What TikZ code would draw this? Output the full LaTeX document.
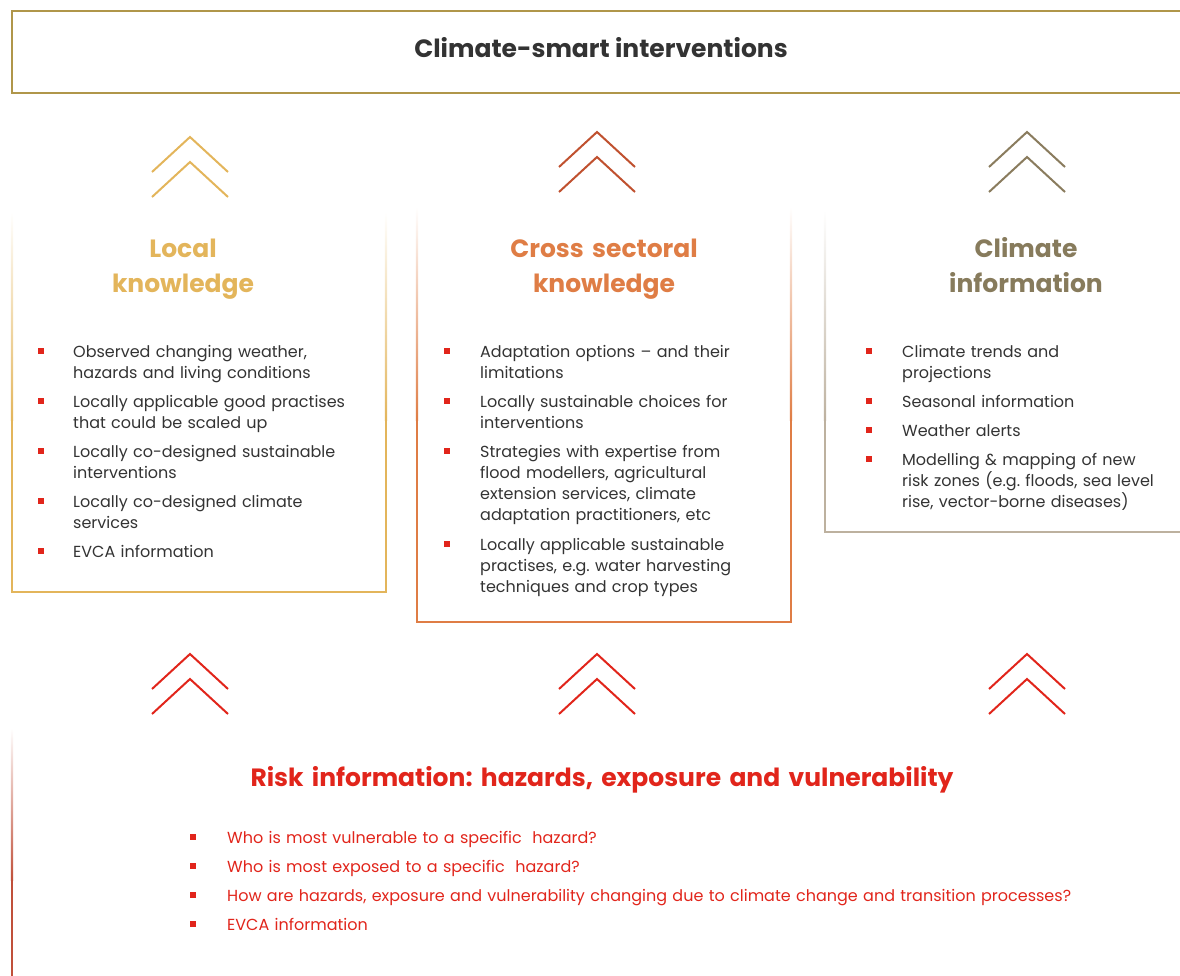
\documentclass[tikz,border=0pt]{standalone}
\usepackage{fontspec}
\setmainfont{Poppins}
\frenchspacing
\definecolor{txt}{HTML}{333333}
\definecolor{topgold}{HTML}{B0964A}
\definecolor{lgold}{HTML}{E3B55B}
\definecolor{xorange}{HTML}{DF7D45}
\definecolor{xchev}{HTML}{C0512F}
\definecolor{ctaupe}{HTML}{877B5C}
\definecolor{cchev}{HTML}{8A7C5E}
\definecolor{cbox}{HTML}{BDB19F}
\definecolor{red1}{HTML}{E1251B}
\definecolor{rline}{HTML}{C0503A}
\newcommand\bitem[6]{% name, colour, bullet x, text x, first baseline y, text
  \node[bul] (#1b) at (#3,#5-6) {};
  \node[body, text=#2] (#1) at (#4,#5) {#6};}
\newcommand\chevpair[4]{% name, apex x, apex y, colour
  \coordinate (#1) at (#2,#3);
  \draw[chev,#4] ([shift={(-38,35)}]#1) -- (#1) -- ([shift={(38,35)}]#1);
  \draw[chev,#4] ([shift={(-38,60)}]#1) -- ([shift={(0,25)}]#1) -- ([shift={(38,60)}]#1);}
\begin{document}
\begin{tikzpicture}[x=1pt,y=-1pt,
  body/.style={font=\frenchspacing\fontsize{16}{21}\selectfont, align=left, text width=900pt, inner sep=0pt, anchor=base west},
  bul/.style={fill=red1, minimum size=6pt, inner sep=0pt},
  ttl/.style={font=\frenchspacing\bfseries\fontsize{25}{35}\selectfont, align=center, text width=360pt, inner sep=0pt, anchor=base},
  chev/.style={line width=2pt},
  edge/.style={line width=2.4pt}]
\useasboundingbox (0,0) rectangle (1180,975);
% top box
\draw[topgold, line width=2.4pt] (1190,11) -- (12,11) -- (12,93) -- (1190,93);
\node[font=\bfseries\fontsize{25}{28}\selectfont, text=txt, inner sep=0pt, anchor=base] (toptitle) at (601,57) {Climate-smart interventions};
% chevrons
\chevpair{c1}{190}{137}{lgold}
\chevpair{c2}{597}{132}{xchev}
\chevpair{c3}{1027}{132}{cchev}
\chevpair{c4}{190}{654}{red1}
\chevpair{c5}{597}{654}{red1}
\chevpair{c6}{1027}{654}{red1}
% left box
\shade[top color=white, bottom color=lgold] (10.8,212) rectangle (13.2,420);
\shade[top color=white, bottom color=lgold] (384.8,212) rectangle (387.2,420);
\draw[edge, lgold] (12,420) -- (12,592) -- (386,592) -- (386,420);
% middle box
\shade[top color=white, bottom color=xorange] (415.8,207) rectangle (418.2,420);
\shade[top color=white, bottom color=xorange] (789.8,207) rectangle (792.2,420);
\draw[edge, xorange] (417,420) -- (417,622) -- (791,622) -- (791,420);
% right box
\shade[top color=white, bottom color=cbox] (823.8,210) rectangle (826.2,420);
\draw[edge, cbox] (825,420) -- (825,532) -- (1190,532);
% bottom frame
\shade[top color=white, bottom color=rline] (10.8,728) rectangle (13.2,880);
\fill[rline] (10.8,880) rectangle (13.2,980);
% titles
\node[ttl, text=lgold] (t1) at (183,257) {Local\\knowledge};
\node[ttl, text=xorange] (t2) at (604,257) {Cross sectoral\\knowledge};
\node[ttl, text=ctaupe] (t3) at (1026,257) {Climate\\information};
\node[ttl, text=red1, text width=900pt] (t4) at (602,786) {Risk information: hazards, exposure and vulnerability};
% left items
\bitem{l1}{txt}{41}{73}{357}{Observed changing weather,\\hazards and living conditions}
\bitem{l2}{txt}{41}{73}{407}{Locally applicable good practises\\that could be scaled up}
\bitem{l3}{txt}{41}{73}{457}{Locally co-designed sustainable\\interventions}
\bitem{l4}{txt}{41}{73}{507}{Locally co-designed climate\\services}
\bitem{l5}{txt}{41}{73}{557}{EVCA information}
% middle items
\bitem{m1}{txt}{447}{480}{357}{Adaptation options -- and their\\limitations}
\bitem{m2}{txt}{447}{480}{407}{Locally sustainable choices for\\interventions}
\bitem{m3}{txt}{447}{480}{457}{Strategies with expertise from\\flood modellers, agricultural\\extension services, climate\\adaptation practitioners, etc}
\bitem{m4}{txt}{447}{480}{550}{Locally applicable sustainable\\practises, e.g. water harvesting\\techniques and crop types}
% right items
\bitem{r1}{txt}{869}{902}{357}{Climate trends and\\projections}
\bitem{r2}{txt}{869}{902}{407}{Seasonal information}
\bitem{r3}{txt}{869}{902}{436}{Weather alerts}
\bitem{r4}{txt}{869}{902}{465}{Modelling \& mapping of new\\risk zones (e.g. floods, sea level\\rise, vector-borne diseases)}
% bottom items
\bitem{b1}{red1}{193}{227}{843}{Who is most vulnerable to a specific\ \ hazard?}
\bitem{b2}{red1}{193}{227}{872}{Who is most exposed to a specific\ \ hazard?}
\bitem{b3}{red1}{193}{227}{901}{How are hazards, exposure and vulnerability changing due to climate change and transition processes?}
\bitem{b4}{red1}{193}{227}{930}{EVCA information}
\end{tikzpicture}
\end{document}
